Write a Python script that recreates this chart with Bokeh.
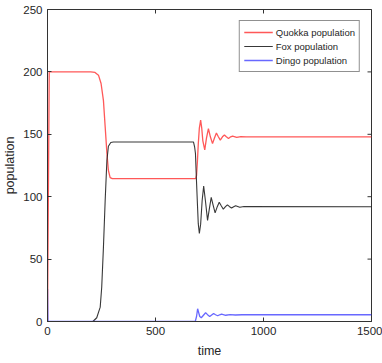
from math import pi
from bokeh.plotting import figure
from bokeh.models import Range1d, FixedTicker, Legend, LegendItem
from bokeh.embed import file_html
from bokeh.resources import INLINE

# ---- data ----
quokka_t = [0, 8, 200, 220, 236, 248, 259, 267, 275, 282, 290, 300, 686, 690, 694, 698,
            703, 709, 714, 719, 728, 736, 745, 754, 764, 773, 782, 791, 800, 810, 819,
            828, 838, 848, 857, 876, 895, 920, 1500]
quokka_v = [1, 200, 200, 199.6, 197.4, 190.7, 177, 156, 135, 121, 115.3, 114.5, 114.5, 117, 128, 142,
            155, 161.3, 155, 145, 137.5, 147, 154.5, 148, 142.5, 147, 151, 148, 145.3, 148, 149.5,
            148, 146.7, 148, 148.6, 147.6, 148.2, 147.9, 148]

fox_t = [0, 210, 228, 244, 251, 259, 267, 275, 282, 293, 305, 676, 681, 685, 689, 694,
         698, 703, 709, 716, 723, 731, 741, 750, 758, 767, 776, 786, 795, 805, 814, 824,
         833, 843, 852, 862, 871, 890, 910, 1500]
fox_v = [0, 0, 3, 11.5, 27.5, 59.6, 97, 129, 140.4, 143.4, 143.8, 143.8, 140, 134.6, 115.8, 94.5,
         78.4, 70.5, 78, 97, 108.5, 97, 81, 91, 99.5, 93, 87, 92, 95.5, 92.5, 90, 92,
         93.5, 92, 91, 92, 92.8, 91.6, 92.2, 92]

dingo_t = [0, 2, 5, 684, 690, 695, 700, 705, 712, 722, 732, 741, 751, 760, 769, 778,
           788, 797, 806, 825, 845, 870, 900, 1500]
dingo_v = [26, 1, 0.1, 0, 4, 10.2, 7, 4, 3, 5, 7, 5.5, 4, 5.2, 6.4, 5.4,
           4.6, 5.4, 5.9, 5, 5.5, 5.2, 5.4, 5.4]

series_names = ["Quokka population", "Fox population", "Dingo population"]
x_ticks = [0, 500, 1000, 1500]
y_ticks = [0, 50, 100, 150, 200, 250]
x_max, y_max = 1500, 250

FONT = "Liberation Sans"
TXT = "#262626"
EDGE = "#333333"

p = figure(width=382, height=363, output_backend="svg", toolbar_location=None,
           x_range=Range1d(0, x_max), y_range=Range1d(0, y_max),
           min_border_left=47, min_border_right=11, min_border_top=9, min_border_bottom=42)
p.xgrid.visible = False
p.ygrid.visible = False
p.outline_line_color = EDGE
p.outline_line_width = 1
p.background_fill_color = "white"
p.border_fill_color = "white"

for ax in (p.xaxis[0], p.yaxis[0]):
    ax.major_tick_in = 4
    ax.major_tick_out = 0
    ax.minor_tick_line_color = None
    ax.axis_line_color = EDGE
    ax.major_tick_line_color = EDGE
    ax.major_label_text_font = FONT
    ax.major_label_text_font_size = "11.5px"
    ax.major_label_text_color = TXT
    ax.major_label_standoff = 5
    ax.axis_label_text_font = FONT
    ax.axis_label_text_font_size = "12.5px"
    ax.axis_label_text_font_style = "normal"
    ax.axis_label_text_color = TXT

p.xaxis.ticker = FixedTicker(ticks=x_ticks)
p.yaxis.ticker = FixedTicker(ticks=y_ticks)
p.xaxis.axis_label = "time"
p.yaxis.axis_label = "population"
p.xaxis.axis_label_standoff = 6
p.yaxis.axis_label_standoff = 3

# ticks on the top and right edges of the box (clipped to the frame -> inward ticks)
p.scatter(x_ticks, [y_max] * len(x_ticks), marker="dash", angle=pi / 2, size=8,
          line_color=EDGE, line_width=1)
p.scatter([x_max] * len(y_ticks), y_ticks, marker="dash", size=8,
          line_color=EDGE, line_width=1)

r1 = p.line(quokka_t, quokka_v, line_color="#ff3b3b", line_width=1.3, line_alpha=0.85)
r2 = p.line(fox_t, fox_v, line_color="#222222", line_width=1.1, line_alpha=0.9)
r3 = p.line(dingo_t, dingo_v, line_color="#3535ff", line_width=1.3, line_alpha=0.75)

legend = Legend(items=[LegendItem(label=series_names[0], renderers=[r1]),
                       LegendItem(label=series_names[1], renderers=[r2]),
                       LegendItem(label=series_names[2], renderers=[r3])],
                location="top_right")
legend.margin = 11
legend.padding = 4
legend.spacing = 0
legend.glyph_width = 29
legend.glyph_height = 14
legend.label_height = 14
legend.label_standoff = 3
legend.label_text_font = FONT
legend.label_text_font_size = "9.5px"
legend.label_text_color = TXT
legend.border_line_color = "#222222"
legend.border_line_width = 1
legend.background_fill_color = "white"
legend.background_fill_alpha = 1
p.add_layout(legend)

open("out.html", "w").write(file_html(p, INLINE))
